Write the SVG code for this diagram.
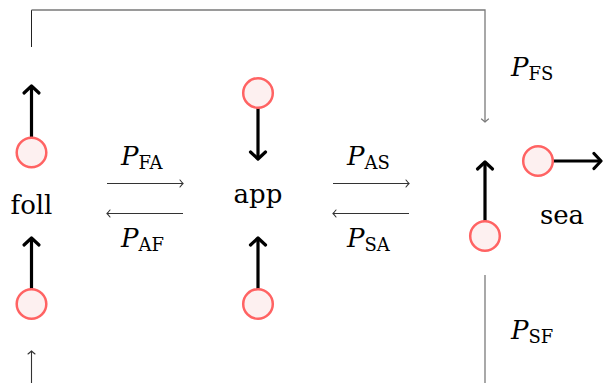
<svg xmlns="http://www.w3.org/2000/svg" width="603" height="383" viewBox="0 0 603 383">
<defs>
<style>
text{font-family:'DejaVu Serif',serif}
.lbl{font-size:26px;fill:#000}
.pl{font-size:26px;font-style:italic;fill:#000}
.sub{font-size:18px;font-style:normal}
.dot{fill:#fdf0f0;stroke:#ff6363;stroke-width:2.5}
.thick{stroke:#000;stroke-width:3.2;fill:none;marker-end:url(#big)}
.thin{stroke:#333;stroke-width:1.1;fill:none;marker-end:url(#small)}
.grey{stroke:#7a7a7a;stroke-width:1.3;fill:none}
</style>
<marker id="big" markerUnits="userSpaceOnUse" markerWidth="20" markerHeight="20" viewBox="-10 -10 20 20" refX="0" refY="0" orient="auto" overflow="visible">
<path d="M-7,-7.5 L0,0 L-7,7.5" fill="none" stroke="#000" stroke-width="3.2" stroke-linejoin="round" stroke-linecap="round"/>
</marker>
<marker id="small" markerUnits="userSpaceOnUse" markerWidth="10" markerHeight="10" viewBox="-5 -5 10 10" refX="0" refY="0" orient="auto" overflow="visible">
<path d="M-3,-3.5 Q-1,-1 0,0 Q-1,1 -3,3.5" fill="none" stroke="#333" stroke-width="1.1" stroke-linecap="round"/>
</marker>
<marker id="smallg" markerUnits="userSpaceOnUse" markerWidth="10" markerHeight="10" viewBox="-5 -5 10 10" refX="0" refY="0" orient="auto" overflow="visible">
<path d="M-3,-3.5 Q-1,-1 0,0 Q-1,1 -3,3.5" fill="none" stroke="#7a7a7a" stroke-width="1.2" stroke-linecap="round"/>
</marker>
</defs>
<rect width="603" height="383" fill="#fff"/>
<g id="connectors">
<path d="M31.5,47 V10" stroke="#222" stroke-width="1" fill="none"/>
<path d="M31.5,10 H485 V122" class="grey" marker-end="url(#smallg)"/>
<path d="M485,275 V383" class="grey"/>
<path d="M31.5,383 V351" class="thin" stroke="#000"/>
<path d="M107,183.5 H183" class="thin"/>
<path d="M183,213.5 H107" class="thin"/>
<path d="M333,183.5 H409" class="thin"/>
<path d="M409,213.5 H333" class="thin"/>
</g>
<g id="foll">
<text class="lbl" x="31.5" y="214" text-anchor="middle">foll</text>
</g>
<g id="app">
<text class="lbl" x="258" y="203" text-anchor="middle">app</text>
</g>
<g id="sea">
<text class="lbl" x="562" y="224" text-anchor="middle">sea</text>
</g>
<g id="foll-top">
<path d="M31.5,137.5 V86" class="thick"/>
<circle class="dot" cx="31.5" cy="152.5" r="14.8"/>
</g>
<g id="foll-bottom">
<path d="M31.5,289 V238" class="thick"/>
<circle class="dot" cx="31.5" cy="304" r="14.8"/>
</g>
<g id="app-top">
<path d="M258,108 V159" class="thick"/>
<circle class="dot" cx="258" cy="93" r="14.8"/>
</g>
<g id="app-bottom">
<path d="M258,289 V238" class="thick"/>
<circle class="dot" cx="258" cy="304" r="14.8"/>
</g>
<g id="sea-left">
<path d="M485,221 V162" class="thick"/>
<circle class="dot" cx="485" cy="236" r="14.8"/>
</g>
<g id="sea-right">
<path d="M553,161 H601" class="thick"/>
<circle class="dot" cx="538" cy="161" r="14.8"/>
</g>
<g id="labels">
<text class="pl" x="121" y="165">P<tspan class="sub" dy="4">FA</tspan></text>
<text class="pl" x="121" y="247">P<tspan class="sub" dy="4">AF</tspan></text>
<text class="pl" x="347" y="165">P<tspan class="sub" dy="4">AS</tspan></text>
<text class="pl" x="347" y="247">P<tspan class="sub" dy="4">SA</tspan></text>
<text class="pl" x="511" y="76">P<tspan class="sub" dy="4">FS</tspan></text>
<text class="pl" x="511" y="339">P<tspan class="sub" dy="4">SF</tspan></text>
</g>
</svg>
